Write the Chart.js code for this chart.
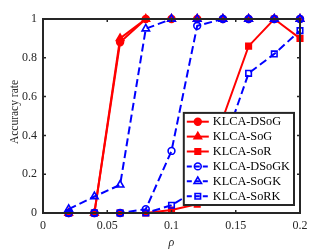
<!DOCTYPE html>
<html><head><meta charset="utf-8">
<style>html,body{margin:0;padding:0;background:#fff;overflow:hidden}#wrap{width:332px;height:249px;position:relative}</style>
<script src="https://cdn.jsdelivr.net/npm/chart.js@4"></script>
</head><body><div id="wrap"><canvas id="c" width="332" height="249"></canvas></div>
<script>
// ---- data ----
const rho = [0.02, 0.04, 0.06, 0.08, 0.10, 0.12, 0.14, 0.16, 0.18, 0.20];
const seriesNames = ['KLCA-DSoG', 'KLCA-SoG', 'KLCA-SoR', 'KLCA-DSoGK', 'KLCA-SoGK', 'KLCA-SoRK'];
const dsog  = [0, 0, 0.88, 1, 1, 1, 1, 1, 1, 1];
const sog   = [0, 0, 0.90, 1, 1, 1, 1, 1, 1, 1];
const sor   = [0, 0, 0, 0, 0.015, 0.045, 0.49, 0.86, 1, 0.90];
const dsogk = [0, 0, 0, 0.02, 0.32, 0.965, 1, 1, 1, 1];
const sogk  = [0.02, 0.085, 0.145, 0.95, 1, 1, 1, 1, 1, 1];
const sork  = [0, 0, 0, 0, 0.04, 0.12, 0.34, 0.72, 0.82, 0.94];
const xTicks = [0, 0.05, 0.1, 0.15, 0.2];
const xTickLabels = ['0', '0.05', '0.1', '0.15', '0.2'];
const yTicks = [0, 0.2, 0.4, 0.6, 0.8, 1];
const yTickLabels = ['0', '0.2', '0.4', '0.6', '0.8', '1'];
const xTitle = 'ρ';
const yTitle = 'Accuracy rate';

// ---- styles ----
const RED = '#FF0000', BLUE = '#0000FF', AX = '#262626';
const FONT = "'Liberation Serif', 'Times New Roman', serif";
const seriesValues = [dsog, sog, sor, dsogk, sogk, sork];
const styles = [
  {color: RED, shape: 'circle', filled: true, dash: []},
  {color: RED, shape: 'triangle', filled: true, dash: []},
  {color: RED, shape: 'rect', filled: true, dash: []},
  {color: BLUE, shape: 'circle', filled: false, dash: [8, 4]},
  {color: BLUE, shape: 'triangle', filled: false, dash: [8, 4]},
  {color: BLUE, shape: 'rect', filled: false, dash: [8, 4]}
];
function radiusFor(shape) { return shape === 'circle' ? 3.4 : (shape === 'triangle' ? 4.3 : 3.9); }

const datasets = seriesNames.map((name, i) => ({
  label: name,
  data: rho.map((x, k) => ({x: x, y: seriesValues[i][k]})),
  borderColor: styles[i].color,
  backgroundColor: styles[i].filled ? styles[i].color : 'rgba(0,0,0,0)',
  borderWidth: 2,
  borderDash: styles[i].dash,
  pointStyle: styles[i].shape,
  pointRadius: radiusFor(styles[i].shape),
  pointBorderWidth: 1.6,
  pointBorderColor: styles[i].color,
  pointBackgroundColor: styles[i].filled ? styles[i].color : 'rgba(0,0,0,0)',
  tension: 0,
  clip: false,
  order: seriesNames.length - i
}));

function drawMarker(ctx, shape, x, y, r, color, filled) {
  ctx.save();
  ctx.setLineDash([]);
  ctx.strokeStyle = color; ctx.fillStyle = color; ctx.lineWidth = 1.6;
  ctx.beginPath();
  if (shape === 'circle') {
    ctx.arc(x, y, r, 0, Math.PI * 2);
  } else if (shape === 'triangle') {
    const t = Math.PI * 2 / 3;
    ctx.moveTo(x, y - r);
    ctx.lineTo(x - Math.sin(t) * r, y - Math.cos(t) * r);
    ctx.lineTo(x + Math.sin(t) * r, y - Math.cos(t) * r);
    ctx.closePath();
  } else {
    const s = r / Math.SQRT2;
    ctx.rect(x - s, y - s, 2 * s, 2 * s);
  }
  if (filled) ctx.fill();
  ctx.stroke();
  ctx.restore();
}

const framePlugin = {
  id: 'frame',
  afterDraw(chart) {
    const ctx = chart.ctx, a = chart.chartArea;
    const xs = chart.scales.x, ys = chart.scales.y;
    ctx.save();
    // box
    ctx.strokeStyle = AX; ctx.lineWidth = 2; ctx.setLineDash([]);
    ctx.strokeRect(a.left, a.top, a.right - a.left, a.bottom - a.top);
    // inward ticks
    ctx.lineWidth = 1.5;
    const tl = 3;
    ctx.beginPath();
    xTicks.forEach(v => {
      const px = xs.getPixelForValue(v);
      ctx.moveTo(px, a.bottom); ctx.lineTo(px, a.bottom - tl);
      ctx.moveTo(px, a.top); ctx.lineTo(px, a.top + tl);
    });
    yTicks.forEach(v => {
      const py = ys.getPixelForValue(v);
      ctx.moveTo(a.left, py); ctx.lineTo(a.left + tl, py);
      ctx.moveTo(a.right, py); ctx.lineTo(a.right - tl, py);
    });
    ctx.stroke();
    // axis titles
    ctx.fillStyle = AX;
    ctx.font = "11.5px " + FONT;
    ctx.textAlign = 'center'; ctx.textBaseline = 'middle';
    ctx.save();
    ctx.translate(15, (a.top + a.bottom) / 2 - 4);
    ctx.rotate(-Math.PI / 2);
    ctx.fillText(yTitle, 0, 0);
    ctx.restore();
    ctx.font = "italic 12px " + FONT;
    ctx.fillText(xTitle, (a.left + a.right) / 2, 242.5);
    // legend
    ctx.font = "12.3px " + FONT;
    let tw = 0;
    seriesNames.forEach(n => { tw = Math.max(tw, ctx.measureText(n).width); });
    const rowH = 14.9, padV = 8.8;
    const w = 29 + tw + 4;
    const h = padV * 2 + rowH * (seriesNames.length - 1);
    const right = a.right - 6, bottom = a.bottom - 8;
    const left = right - w, top = bottom - h;
    ctx.fillStyle = '#fff';
    ctx.fillRect(left, top, w, h);
    ctx.strokeStyle = AX; ctx.lineWidth = 2;
    ctx.strokeRect(left, top, w, h);
    seriesNames.forEach((n, i) => {
      const cy = top + padV + i * rowH;
      const st = styles[i];
      ctx.save();
      ctx.strokeStyle = st.color; ctx.lineWidth = 2;
      ctx.setLineDash(st.dash.length ? [5, 3] : []);
      ctx.beginPath(); ctx.moveTo(left + 3, cy); ctx.lineTo(left + 25, cy); ctx.stroke();
      ctx.restore();
      drawMarker(ctx, st.shape, left + 14, cy, radiusFor(st.shape), st.color, st.filled);
      ctx.fillStyle = '#000'; ctx.textAlign = 'left'; ctx.textBaseline = 'middle';
      ctx.fillText(n, left + 29, cy + 0.5);
    });
    ctx.restore();
  }
};

new Chart(document.getElementById('c'), {
  type: 'line',
  data: {datasets: datasets},
  options: {
    responsive: false,
    animation: false,
    devicePixelRatio: 1,
    layout: {padding: {left: 0, top: 19, right: 32, bottom: 0}},
    plugins: {legend: {display: false}, tooltip: {enabled: false}},
    scales: {
      x: {
        type: 'linear', min: 0, max: 0.2,
        afterBuildTicks: s => { s.ticks = xTicks.map(v => ({value: v})); },
        afterFit: s => { s.height = 36; },
        grid: {display: false, drawTicks: false},
        border: {display: false},
        ticks: {
          padding: 6, maxRotation: 0, autoSkip: false, color: AX,
          font: {family: FONT, size: 12},
          callback: (v) => { const i = xTicks.findIndex(t => Math.abs(t - v) < 1e-9); return i >= 0 ? xTickLabels[i] : ''; }
        }
      },
      y: {
        type: 'linear', min: 0, max: 1,
        afterBuildTicks: s => { s.ticks = yTicks.map(v => ({value: v})); },
        afterFit: s => { s.width = 43; },
        grid: {display: false, drawTicks: false},
        border: {display: false},
        ticks: {
          padding: 6, color: AX, autoSkip: false,
          font: {family: FONT, size: 12},
          callback: (v) => { const i = yTicks.findIndex(t => Math.abs(t - v) < 1e-9); return i >= 0 ? yTickLabels[i] : ''; }
        }
      }
    }
  },
  plugins: [framePlugin]
});
</script>
</body></html>
